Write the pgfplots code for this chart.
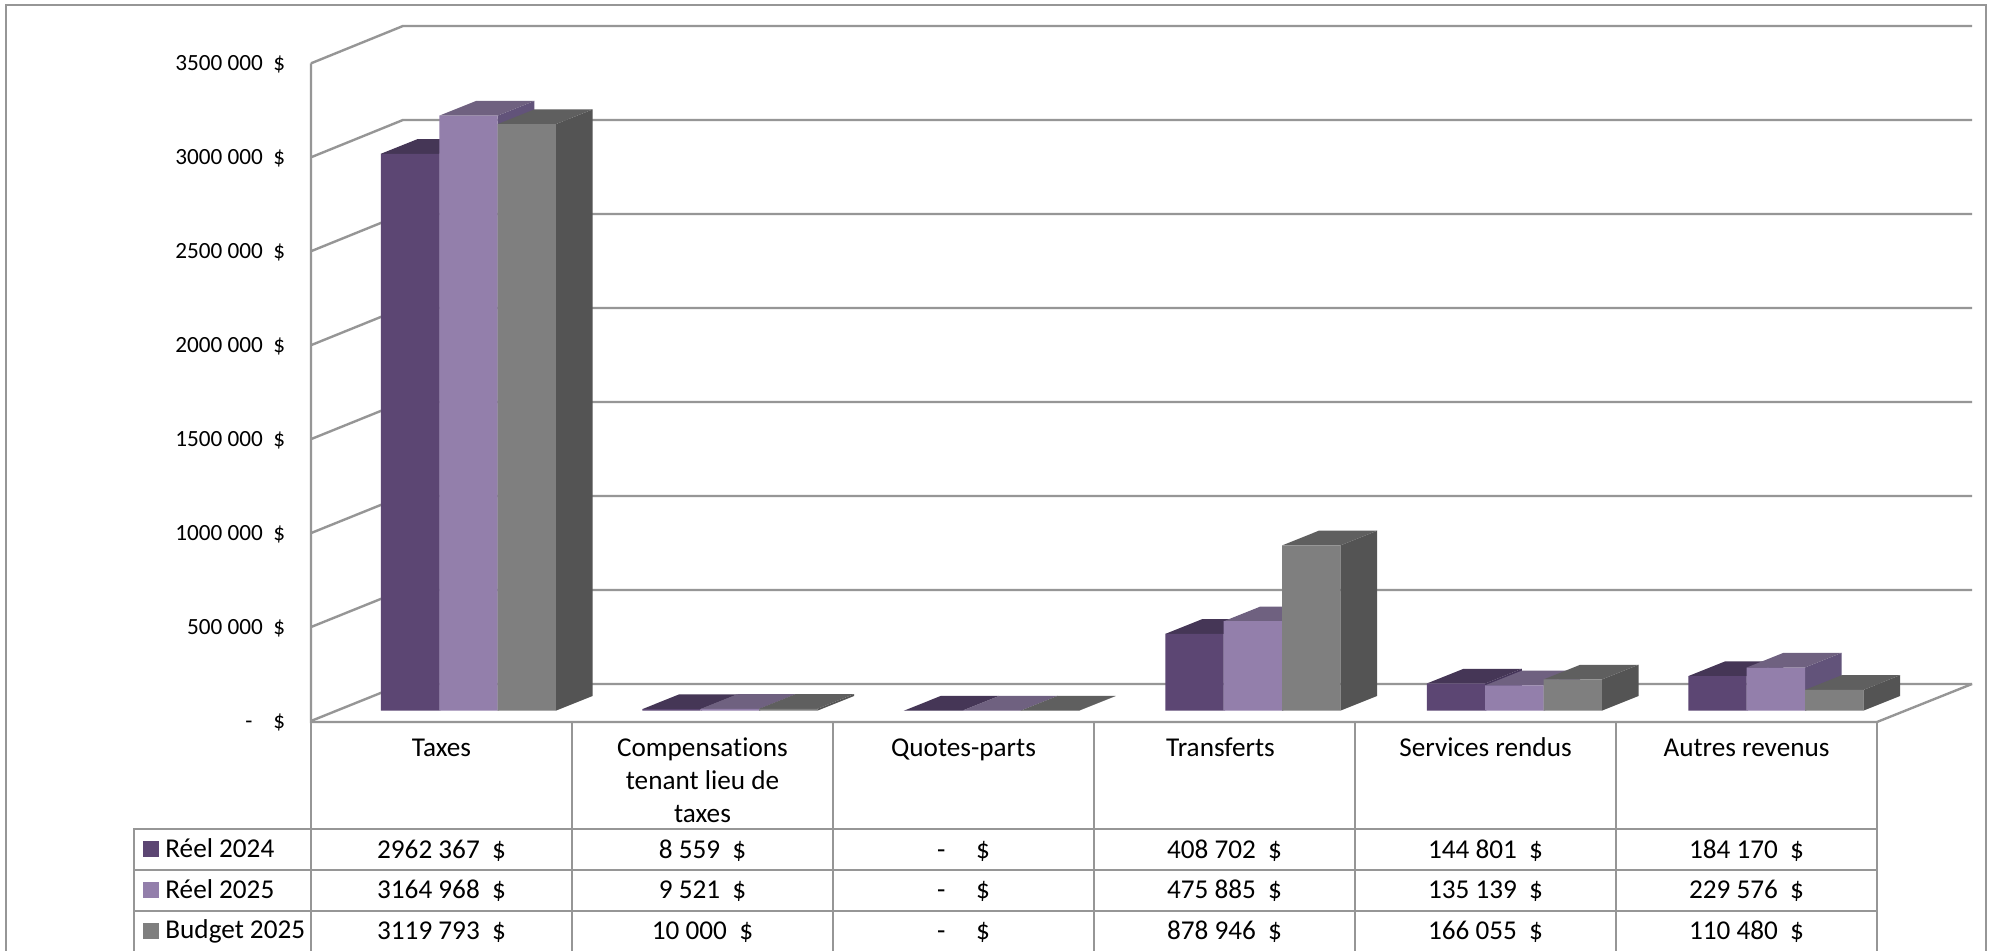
\documentclass[border=0pt]{standalone}
\usepackage{fontspec}
\usepackage{pgfplots}
\usepackage{pgfplotstable}
\pgfplotsset{compat=1.18}
\setmainfont[Ligatures=NoCommon]{Carlito}
\definecolor{gridc}{HTML}{969696}
\definecolor{frA}{HTML}{5C4673}
\definecolor{frB}{HTML}{937FAB}
\definecolor{frC}{HTML}{7F7F7F}
\definecolor{topA}{HTML}{453656}
\definecolor{topB}{HTML}{6F6180}
\definecolor{topC}{HTML}{5F5F5F}
\definecolor{sideA}{HTML}{45355A}
\definecolor{sideB}{HTML}{62537A}
\definecolor{sideC}{HTML}{545454}
\pgfplotstableread{
x      v
0.3797 2962367
1.3816 8559
2.3835 0
3.3854 408702
4.3873 144801
5.3892 184170
}\reelA
\pgfplotstableread{
x      v
0.6031 3164968
1.6050 9521
2.6069 0
3.6088 475885
4.6107 135139
5.6126 229576
}\reelB
\pgfplotstableread{
x      v
0.8265 3119793
1.8284 10000
2.8303 0
3.8322 878946
4.8341 166055
5.8360 110480
}\budget
% depth faces of one bar: x centre, value, top colour, side colour
\newcommand{\depth}[4]{%
  \pgfkeys{/pgf/fpu=true,/pgf/fpu/output format=fixed}%
  \pgfmathsetmacro\xl{#1-0.1117}%
  \pgfmathsetmacro\xr{#1+0.1117}%
  \pgfmathsetmacro\xld{#1-0.1117+0.1406}%
  \pgfmathsetmacro\xrd{#1+0.1117+0.1406}%
  \pgfmathsetmacro\vd{#2+78200}%
  \pgfkeys{/pgf/fpu=false}%
  \addplot[fill=#4,draw=none,forget plot] coordinates {(\xr,0) (\xrd,78200) (\xrd,\vd) (\xr,#2)} -- cycle;
  \addplot[fill=#3,draw=none,forget plot] coordinates {(\xl,#2) (\xr,#2) (\xrd,\vd) (\xld,\vd)} -- cycle;
}
\newcommand{\faces}[3]{%
  \pgfplotsinvokeforeach{0,...,5}{%
    \pgfplotstablegetelem{##1}{x}\of#1\let\xx\pgfplotsretval
    \pgfplotstablegetelem{##1}{v}\of#1\let\vv\pgfplotsretval
    \depth{\xx}{\vv}{#2}{#3}%
  }%
}
\newcommand{\txt}{\fontsize{11.6}{13.9}\selectfont}
\newcommand{\tbl}{\fontsize{13.6}{16.3}\selectfont}
\begin{document}
\begin{tikzpicture}
\begin{scope}[x=0.5pt,y=-0.5pt,shift={(-311,-721)},
    cell/.style={font=\tbl,anchor=base,inner sep=0pt},
    lab/.style={font=\tbl,anchor=base west,inner sep=0pt}]
  \useasboundingbox (0,0) rectangle (1993,951);
  \fill[white] (0,0) rectangle (1993,951);
  % outer frame
  \draw[gridc,line width=1pt] (6,951) -- (6,5) -- (1986,5) -- (1986,951);
  % walls and gridlines
  \foreach \k in {0,...,7} {
    \pgfmathsetmacro\yf{721-93.95*\k}
    \pgfmathsetmacro\yb{684-94*\k}
    \draw[gridc,line width=1.2pt] (311,\yf) -- (403,\yb) -- (1972,\yb);
  }
  \draw[gridc,line width=1.2pt] (311,63.3) -- (311,722) -- (1877,722) -- (1972,684);
  % table rules
  \foreach \c in {311,572,833,1094,1355,1616,1877} {
    \draw[gridc,line width=0.6pt] (\c,722) -- (\c,829);
    \draw[gridc,line width=1pt] (\c,829) -- (\c,951);
  }
  \draw[gridc,line width=1pt] (134,951) -- (134,829) -- (1877,829);
  \draw[gridc,line width=1pt] (134,870) -- (1877,870);
  \draw[gridc,line width=1pt] (134,911) -- (1877,911);
  % headers
  \foreach \c/\t in {441.5/Taxes,963.5/Quotes-parts,1220.5/Transferts,1485.5/Services rendus,1746.5/Autres revenus}
    \node[cell] at (\c,756.5) {\t};
  \node[cell] at (702.5,756.5) {Compensations};
  \node[cell] at (702.5,789.5) {tenant lieu de};
  \node[cell] at (702.5,822.5) {taxes};
  % legend column
  \fill[frA] (143,841) rectangle (159,857);
  \fill[frB] (143,882) rectangle (159,898);
  \fill[frC] (143,923) rectangle (159,939);
  \node[lab] at (165,858) {Réel 2024};
  \node[lab] at (165,898.5) {Réel 2025};
  \node[lab] at (165,939) {Budget 2025};
  % values
  \foreach \c/\a/\b/\d in {
    441.5/2962 367/3164 968/3119 793,
    702.5/8 559/9 521/10 000,
    963.5/-\ \ \ /-\ \ \ /-\ \ \ ,
    1224.5/408 702/475 885/878 946,
    1485.5/144 801/135 139/166 055,
    1746.5/184 170/229 576/110 480} {
    \node[cell] at (\c,858.5) {\a\ \ \$};
    \node[cell] at (\c,899) {\b\ \ \$};
    \node[cell] at (\c,939.5) {\d\ \ \$};
  }
\end{scope}
\begin{axis}[
  at={(0pt,0pt)},anchor=south west,
  scale only axis,width=783pt,height=329pt,
  xmin=0,xmax=6,ymin=-54800,ymax=3445200,
  clip=false,
  scaled y ticks=false,
  axis line style={draw=none},
  xtick=\empty,
  ytick={-54800,445200,945200,1445200,1945200,2445200,2945200,3445200},
  yticklabels={-\ \ \ \ \$,500 000\ \ \$,1000 000\ \ \$,1500 000\ \ \$,2000 000\ \ \$,2500 000\ \ \$,3000 000\ \ \$,3500 000\ \ \$},
  yticklabel style={font=\txt,anchor=east,inner sep=0pt,xshift=-12.7pt,yshift=-0.7pt},
  major tick length=0pt,
  ytick pos=left,
  bar width=29.15pt,
]
\faces{\reelA}{topA}{sideA}
\addplot[ybar,bar shift=0pt,fill=frA,draw=none,forget plot] table[x=x,y=v] {\reelA};
\faces{\reelB}{topB}{sideB}
\addplot[ybar,bar shift=0pt,fill=frB,draw=none,forget plot] table[x=x,y=v] {\reelB};
\faces{\budget}{topC}{sideC}
\addplot[ybar,bar shift=0pt,fill=frC,draw=none,forget plot] table[x=x,y=v] {\budget};
\end{axis}
\end{tikzpicture}
\end{document}
